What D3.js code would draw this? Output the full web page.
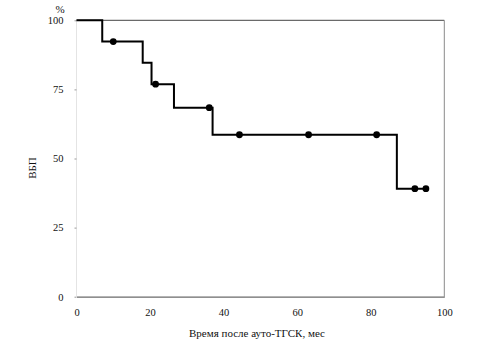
<!DOCTYPE html>
<html>
<head>
<meta charset="utf-8">
<script src="https://cdn.jsdelivr.net/npm/d3@7"></script>
<style>
  html, body { margin: 0; padding: 0; background: #fff; }
  svg { display: block; }
</style>
</head>
<body>
<svg id="chart" width="492" height="350"></svg>
<script>
// Kaplan–Meier curve: step start times (months) and survival (%) after each step
const stepTimes = [0, 7, 18, 20.4, 26.5, 37, 87.1];
const stepValues = [100, 92.3, 84.6, 76.9, 68.4, 58.6, 39.1];
const endTime = 95;
// censored observations (months)
const censorTimes = [10, 21.5, 36.1, 44.3, 63.1, 81.6, 92, 95];
const xTicks = [0, 20, 40, 60, 80, 100];
const yTicks = [0, 25, 50, 75, 100];

const FONT = "'Liberation Serif', 'Times New Roman', 'DejaVu Serif', serif";
const svg = d3.select("#chart");
const x = d3.scaleLinear().domain([0, 100]).range([76.5, 444.3]);
const y = d3.scaleLinear().domain([0, 100]).range([296.7, 20.3]);

// survival value at time t
function survAt(t) {
  let v = stepValues[0];
  for (let i = 0; i < stepTimes.length; i++) if (stepTimes[i] <= t) v = stepValues[i];
  return v;
}

// frame: faint left axis, grey top/right borders
svg.append("line").attr("x1", x(0)).attr("x2", x(0)).attr("y1", y(100)).attr("y2", y(0))
  .attr("stroke", "#e4e4e4").attr("stroke-width", 1);
svg.append("line").attr("x1", x(0)).attr("x2", x(100)).attr("y1", y(100)).attr("y2", y(100))
  .attr("stroke", "#6a6a6a").attr("stroke-width", 1.2);
svg.append("line").attr("x1", x(100)).attr("x2", x(100)).attr("y1", y(100)).attr("y2", y(0))
  .attr("stroke", "#8a8a8a").attr("stroke-width", 1);

// x axis
const xAxis = svg.append("g").attr("transform", `translate(0,${y(0)})`)
  .call(d3.axisBottom(x).tickValues(xTicks).tickSize(0).tickPadding(12));
xAxis.attr("font-family", FONT).attr("font-size", 10.5);
xAxis.select(".domain").attr("stroke", "#6a6a6a").attr("stroke-width", 1.2);
xAxis.selectAll("text").attr("fill", "#111");

// y axis
const yAxis = svg.append("g").attr("transform", `translate(${x(0)},0)`)
  .call(d3.axisLeft(y).tickValues(yTicks).tickSize(2).tickPadding(11));
yAxis.attr("font-family", FONT).attr("font-size", 10.5);
yAxis.select(".domain").remove();
yAxis.selectAll(".tick line").attr("stroke", "#999");
yAxis.selectAll("text").attr("fill", "#111");

// step curve
const pts = stepTimes.map((t, i) => [t, stepValues[i]]);
pts.push([endTime, stepValues[stepValues.length - 1]]);
const line = d3.line().x(d => x(d[0])).y(d => y(d[1])).curve(d3.curveStepAfter);
svg.append("path").datum(pts).attr("d", line)
  .attr("fill", "none").attr("stroke", "#000").attr("stroke-width", 2);

// censor marks
svg.selectAll("circle.censor").data(censorTimes).join("circle")
  .attr("class", "censor")
  .attr("cx", d => x(d)).attr("cy", d => y(survAt(d)))
  .attr("r", 3.4).attr("fill", "#000");

// labels
const labels = svg.append("g").attr("font-family", FONT).attr("font-size", 11).attr("fill", "#111");
labels.append("text").attr("x", 60).attr("y", 13).attr("text-anchor", "middle").text("%");
labels.append("text").attr("transform", "translate(36,168) rotate(-90)").attr("text-anchor", "middle").text("ВБП");
labels.append("text").attr("x", 257).attr("y", 337).attr("text-anchor", "middle").text("Время после ауто-ТГСК, мес");
</script>
</body>
</html>
